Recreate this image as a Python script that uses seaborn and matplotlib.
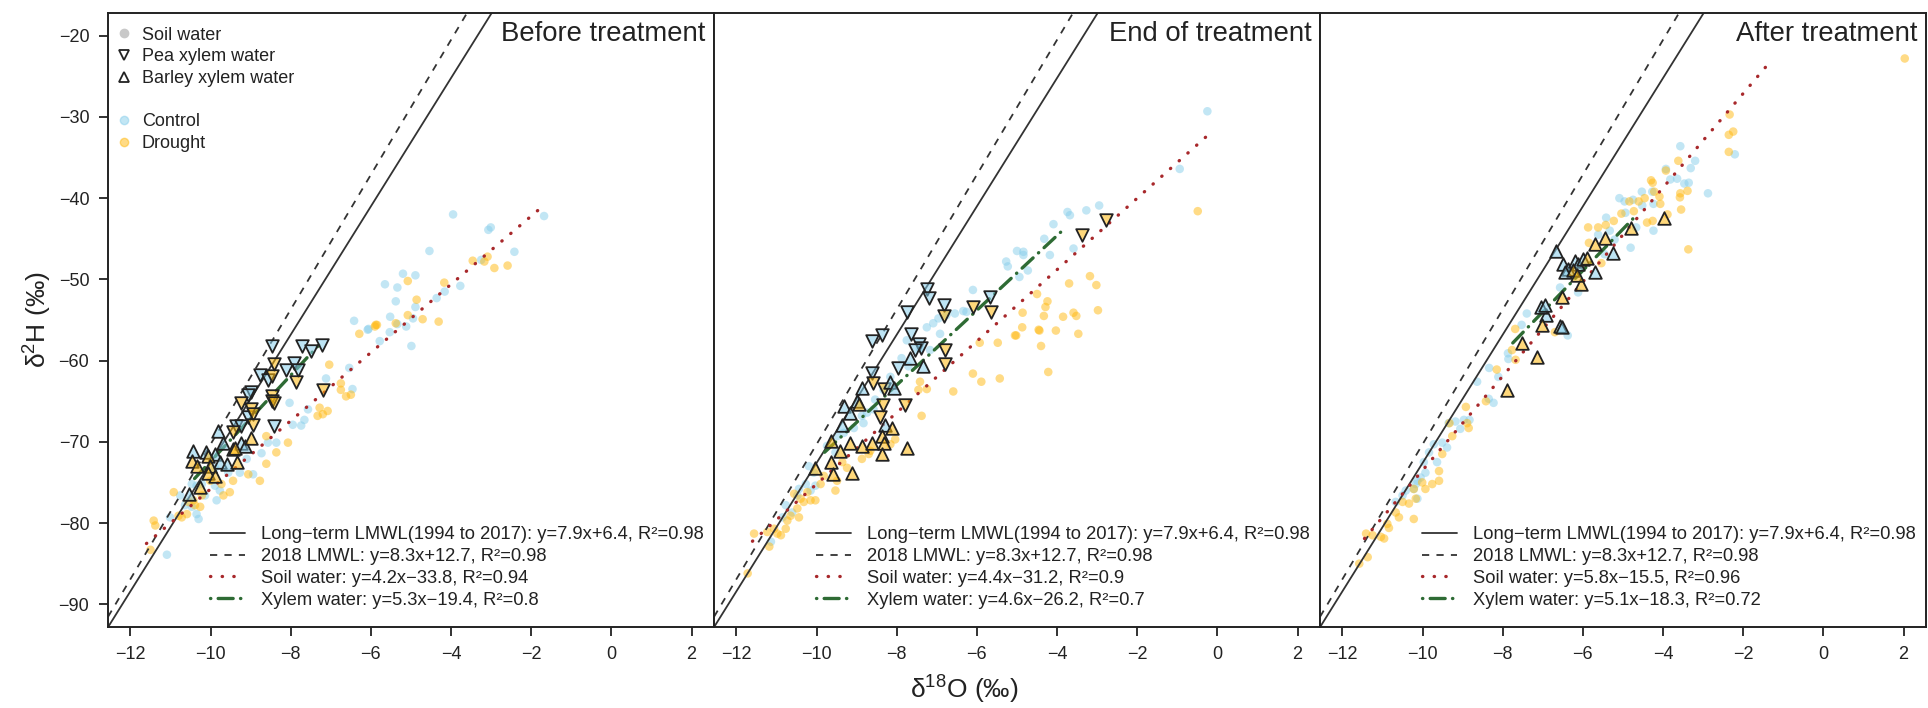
import numpy as np
import matplotlib
matplotlib.use("Agg")
import matplotlib.pyplot as plt
import seaborn as sns
from matplotlib.lines import Line2D

# ---- data (d18O, d2H) ----
# Before treatment
before_soil_control = np.array([
    (-6.42, -55.1), (-6.08, -56.2), (-6.54, -60.9), (-7.12, -62.2), (-6.46, -63.5), (-8.03, -65.2),
    (-7.57, -66.0), (-7.95, -67.9), (-7.74, -68.0), (-7.66, -67.3), (-8.57, -70.1), (-8.36, -70.1),
    (-8.73, -71.4), (-9.10, -72.1), (-8.94, -74.0), (-9.27, -73.8), (-9.56, -73.8), (-9.89, -75.4),
    (-9.77, -76.0), (-10.35, -75.4), (-10.47, -75.2), (-10.22, -75.2), (-10.14, -76.6), (-9.85, -77.2),
    (-10.64, -77.8), (-10.47, -78.0), (-10.35, -78.9), (-10.30, -79.5), (-11.01, -79.3), (-11.09, -83.9),
    (-10.76, -76.6), (-9.89, -73.2), (-3.95, -42.0), (-1.68, -42.2), (-3.01, -43.6), (-3.07, -43.9),
    (-2.42, -46.6), (-4.54, -46.5), (-3.25, -47.6), (-5.20, -49.3), (-4.89, -49.5), (-5.65, -50.6),
    (-5.34, -51.0), (-3.77, -50.8), (-4.16, -51.5), (-4.36, -52.3), (-5.38, -52.7), (-4.89, -53.4),
    (-5.52, -54.6), (-4.95, -54.8), (-5.12, -55.8), (-5.34, -55.5), (-6.06, -56.1), (-5.53, -56.5),
    (-5.78, -57.6), (-4.99, -58.2)])
before_soil_drought = np.array([
    (-6.29, -56.7), (-5.88, -55.6), (-7.04, -60.5), (-6.75, -62.8), (-6.75, -63.6), (-6.62, -64.4),
    (-6.50, -64.2), (-7.28, -65.8), (-7.33, -66.8), (-7.20, -66.6), (-7.08, -66.2), (-8.61, -69.3),
    (-8.07, -70.1), (-8.36, -71.3), (-8.61, -72.7), (-8.77, -74.8), (-9.06, -74.0), (-9.44, -74.8),
    (-9.52, -76.2), (-9.68, -76.6), (-9.73, -75.2), (-10.01, -74.8), (-10.22, -76.6), (-10.43, -77.2),
    (-10.39, -77.8), (-10.26, -78.0), (-10.55, -77.4), (-10.92, -76.2), (-10.80, -79.1), (-10.59, -78.9),
    (-11.42, -79.7), (-11.38, -80.3), (-11.50, -83.3), (-10.72, -79.3), (-3.46, -47.7), (-3.09, -47.2),
    (-3.17, -47.8), (-2.92, -48.6), (-2.59, -48.3), (-5.08, -50.2), (-4.17, -50.4), (-4.86, -52.5),
    (-5.08, -54.4), (-4.71, -54.9), (-4.31, -55.2), (-5.85, -55.6), (-5.90, -55.8), (-5.38, -55.4)])
before_pea_control = np.array([
    (-8.48, -58.2), (-7.71, -58.2), (-7.49, -58.8), (-7.22, -58.1), (-8.77, -61.8), (-8.13, -61.2),
    (-7.93, -60.3), (-7.82, -61.1), (-8.57, -62.4), (-8.98, -63.9), (-9.06, -64.2), (-9.06, -66.9),
    (-9.37, -68.1), (-9.25, -68.1), (-8.43, -68.1)])
before_pea_drought = np.array([
    (-8.43, -60.4), (-8.48, -61.9), (-7.86, -62.6), (-8.48, -64.4), (-8.48, -65.0), (-8.43, -65.2),
    (-7.20, -63.6), (-9.23, -65.2), (-8.98, -66.0), (-8.94, -66.6), (-8.94, -67.9), (-9.44, -68.8)])
before_barley_control = np.array([
    (-9.81, -68.7), (-10.43, -71.1), (-10.11, -71.3), (-9.89, -71.5), (-9.77, -72.5), (-9.60, -72.7),
    (-9.23, -70.1), (-9.68, -70.1), (-10.55, -76.4), (-9.15, -70.5)])
before_barley_drought = np.array([
    (-10.06, -71.7), (-10.47, -72.3), (-10.35, -73.0), (-10.01, -73.0), (-9.44, -70.9), (-9.39, -70.7),
    (-8.98, -69.5), (-9.35, -72.5), (-10.07, -73.8), (-9.89, -74.2), (-10.26, -75.6)])

# End of treatment
end_soil_control = np.array([
    (-7.09, -55.4), (-6.96, -54.8), (-6.76, -54.4), (-7.25, -55.9), (-6.92, -56.7), (-6.55, -54.2),
    (-6.26, -54.0), (-7.75, -57.5), (-7.17, -58.7), (-7.88, -59.7), (-7.71, -60.7), (-8.16, -62.0),
    (-8.33, -63.6), (-8.54, -64.8), (-8.74, -66.4), (-8.87, -66.8), (-9.07, -68.3), (-8.58, -66.0),
    (-8.83, -67.7), (-9.74, -70.5), (-9.53, -71.3), (-10.19, -73.0), (-10.07, -73.8), (-10.27, -75.2),
    (-10.03, -75.4), (-10.48, -76.6), (-10.77, -77.8), (-10.61, -78.7), (-10.85, -79.3), (-11.14, -82.3),
    (-10.44, -75.8), (-10.15, -76.0), (-9.49, -69.3), (-9.32, -68.9), (-7.42, -58.5), (-0.25, -29.3),
    (-0.94, -36.4), (-2.95, -40.9), (-3.27, -41.5), (-3.74, -41.7), (-3.68, -42.1), (-4.09, -43.2),
    (-4.32, -45.0), (-4.18, -47.0), (-3.59, -46.2), (-4.84, -46.6), (-4.84, -47.0), (-5.00, -46.5),
    (-5.27, -47.8), (-5.23, -48.4), (-4.73, -48.9), (-4.94, -49.7), (-6.10, -51.3), (-6.34, -53.9)])
end_soil_drought = np.array([
    (-7.42, -62.6), (-7.46, -63.6), (-7.25, -63.5), (-7.38, -66.8), (-6.59, -63.8), (-6.10, -61.6),
    (-5.89, -62.6), (-5.43, -62.2), (-5.93, -57.8), (-5.48, -57.8), (-5.02, -56.9), (-4.44, -56.3),
    (-4.40, -58.2), (-8.04, -69.7), (-8.16, -70.3), (-8.66, -71.1), (-8.70, -71.5), (-8.87, -72.1),
    (-9.36, -72.5), (-9.24, -73.2), (-9.49, -74.8), (-9.53, -76.0), (-9.82, -74.2), (-9.90, -75.2),
    (-10.23, -76.2), (-10.40, -77.0), (-10.32, -77.4), (-10.15, -77.2), (-10.03, -77.2), (-10.56, -76.4),
    (-10.48, -78.2), (-10.65, -79.1), (-10.44, -79.3), (-10.73, -79.7), (-10.77, -80.7), (-10.89, -81.5),
    (-11.06, -80.7), (-10.98, -81.3), (-11.18, -82.9), (-11.56, -81.3), (-11.72, -86.2), (-11.23, -81.1),
    (-0.49, -41.6), (-3.18, -49.6), (-3.02, -50.7), (-3.70, -50.5), (-4.50, -51.8), (-4.24, -52.7),
    (-4.29, -53.4), (-4.86, -54.1), (-4.33, -54.5), (-3.85, -54.6), (-3.52, -54.5), (-3.59, -54.1),
    (-2.98, -53.8), (-4.87, -55.9), (-4.46, -56.2), (-4.03, -56.3), (-3.47, -56.7), (-5.05, -56.9),
    (-4.22, -61.4)])
end_pea_control = np.array([
    (-7.24, -51.2), (-7.19, -52.3), (-6.83, -53.1), (-7.75, -54.0), (-5.67, -52.2), (-8.61, -57.6),
    (-8.37, -56.9), (-7.64, -56.7), (-7.44, -57.9), (-7.39, -58.4), (-7.54, -58.7), (-8.61, -61.5),
    (-7.98, -60.9)])
end_pea_drought = np.array([
    (-6.83, -54.5), (-6.09, -53.4), (-5.65, -54.0), (-6.80, -58.7), (-6.80, -60.4), (-8.59, -62.7),
    (-8.32, -63.5), (-7.80, -65.5), (-8.35, -65.5), (-3.39, -44.5), (-2.78, -42.7), (-8.41, -67.0)])
end_barley_control = np.array([
    (-7.67, -59.7), (-7.34, -60.7), (-8.16, -62.6), (-8.08, -63.4), (-8.87, -63.4), (-8.99, -65.0),
    (-9.32, -65.6), (-9.16, -66.4), (-9.36, -67.9), (-8.29, -67.9)])
end_barley_drought = np.array([
    (-8.95, -65.4), (-8.12, -68.3), (-9.65, -69.9), (-9.16, -70.1), (-9.41, -71.1), (-8.87, -70.5),
    (-8.62, -70.1), (-8.37, -69.3), (-8.33, -70.1), (-8.37, -71.5), (-7.75, -70.7), (-10.03, -73.2),
    (-9.65, -72.5), (-9.59, -74.0), (-9.12, -73.8)])

# After treatment
after_soil_control = np.array([
    (-7.40, -54.2), (-7.53, -55.6), (-6.38, -56.9), (-7.87, -59.1), (-7.86, -59.8), (-8.34, -60.9),
    (-8.11, -62.0), (-8.64, -62.6), (-8.23, -65.2), (-8.35, -64.7), (-8.83, -67.3), (-9.06, -68.4),
    (-8.97, -67.3), (-9.18, -67.5), (-9.35, -67.7), (-9.72, -70.3), (-9.51, -70.1), (-9.39, -70.7),
    (-9.84, -71.3), (-9.97, -72.5), (-9.64, -72.5), (-9.93, -73.8), (-10.05, -74.4), (-10.13, -74.8),
    (-10.17, -75.2), (-10.22, -75.8), (-10.13, -77.0), (-10.42, -76.0), (-10.50, -76.6), (-10.67, -77.4),
    (-3.57, -33.6), (-3.20, -35.4), (-3.31, -36.3), (-2.21, -34.6), (-3.93, -36.4), (-3.82, -37.7),
    (-3.65, -37.6), (-3.36, -38.1), (-3.47, -38.2), (-2.88, -39.4), (-4.27, -39.2), (-4.53, -39.2),
    (-4.52, -40.9), (-4.24, -40.7), (-4.75, -40.2), (-4.96, -40.4), (-5.09, -40.0), (-5.42, -42.4),
    (-4.94, -41.8), (-4.67, -43.6), (-4.24, -44.0), (-4.81, -46.1), (-5.21, -45.1), (-5.62, -44.5),
    (-5.33, -44.0), (-6.57, -51.0), (-6.12, -51.6), (-5.46, -46.9)])
after_soil_drought = np.array([
    (-7.69, -56.1), (-7.77, -58.7), (-7.68, -59.9), (-8.15, -61.1), (-8.42, -65.0), (-8.92, -65.7),
    (-9.33, -67.7), (-9.26, -69.3), (-8.85, -68.3), (-8.89, -67.7), (-9.51, -71.5), (-9.59, -73.6),
    (-9.59, -74.8), (-9.76, -75.2), (-9.93, -75.8), (-10.01, -75.0), (-10.22, -75.8), (-10.17, -77.0),
    (-10.34, -77.6), (-10.50, -77.4), (-10.67, -78.7), (-10.59, -79.3), (-10.88, -80.1), (-10.84, -80.6),
    (-11.04, -81.7), (-10.96, -81.9), (-11.25, -81.5), (-11.41, -81.3), (-11.37, -84.2), (-11.58, -85.0),
    (-10.22, -79.5), (-6.70, -56.5), (2.03, -22.8), (-2.34, -29.7), (-2.25, -31.8), (-2.36, -32.2),
    (-2.36, -34.3), (-3.62, -35.4), (-3.93, -36.6), (-4.30, -37.8), (-4.26, -38.1), (-3.57, -39.4),
    (-3.39, -39.1), (-3.58, -39.9), (-4.09, -39.8), (-4.07, -40.7), (-4.84, -40.4), (-4.61, -40.4),
    (-4.46, -40.0), (-4.22, -39.2), (-3.55, -41.4), (-3.89, -42.0), (-4.73, -41.6), (-5.04, -41.9),
    (-5.23, -42.8), (-5.62, -43.6), (-5.87, -43.6), (-5.85, -45.5), (-4.40, -43.0), (-4.26, -42.8),
    (-3.37, -46.3), (-5.43, -43.3), (-5.54, -48.0)])
after_pea_control = np.empty((0, 2))
after_pea_drought = np.empty((0, 2))
after_barley_control = np.array([
    (-5.25, -46.8), (-5.71, -49.1), (-6.57, -55.8), (-6.68, -46.5), (-6.49, -48.1), (-6.37, -48.7),
    (-6.20, -47.7), (-6.12, -48.1), (-6.00, -47.5), (-6.45, -49.1), (-6.91, -54.4), (-6.53, -55.9),
    (-7.05, -53.4), (-6.95, -53.2)])
after_barley_drought = np.array([
    (-3.97, -42.5), (-4.80, -43.7), (-5.44, -44.9), (-5.69, -45.6), (-6.04, -50.6), (-6.53, -52.2),
    (-5.91, -47.4), (-6.24, -48.9), (-6.16, -49.4), (-7.53, -57.8), (-7.15, -59.6), (-7.90, -63.6),
    (-7.03, -55.6)])

# regression lines: slope, intercept, R2 and x range of the fit
panel_titles = ["Before treatment", "End of treatment", "After treatment"]
lmwl_long = (7.9, 6.4, 0.98)
lmwl_2018 = (8.3, 12.7, 0.98)
soil_fit = [(4.2, -33.8, 0.94), (4.4, -31.2, 0.9), (5.8, -15.5, 0.96)]
soil_xrange = [(-11.6, -1.8), (-11.6, -0.2), (-11.45, -1.4)]
xylem_fit = [(5.3, -19.4, 0.8), (4.6, -26.2, 0.7), (5.1, -18.3, 0.72)]
xylem_xrange = [(-10.4, -7.3), (-9.8, -3.8), (-7.75, -4.75)]
x_ticks = [-12, -10, -8, -6, -4, -2, 0, 2]
y_ticks = [-90, -80, -70, -60, -50, -40, -30, -20]

soil = [(before_soil_control, before_soil_drought), (end_soil_control, end_soil_drought),
        (after_soil_control, after_soil_drought)]
pea = [(before_pea_control, before_pea_drought), (end_pea_control, end_pea_drought),
       (after_pea_control, after_pea_drought)]
barley = [(before_barley_control, before_barley_drought), (end_barley_control, end_barley_drought),
          (after_barley_control, after_barley_drought)]

# ---- style ----
sns.set_style("ticks")
plt.rcParams["font.family"] = ["Liberation Sans", "DejaVu Sans"]
plt.rcParams["mathtext.fontset"] = "custom"
plt.rcParams["mathtext.rm"] = "Liberation Sans"
plt.rcParams["axes.unicode_minus"] = True

blue = "#87CEEB"
orange = "#FFB90F"
edge = "#222222"
c_long = "#333333"
c_soil = "#A8282B"
c_xyl = "#2E6B34"
txt = "#222222"


def fmt(v):
    return f"{v:g}".replace("-", "\u2212")


def eq(fit):
    m, b, r2 = fit
    sign = "+" if b >= 0 else "\u2212"
    return f"y={fmt(m)}x{sign}{fmt(abs(b))}, R\u00b2={fmt(r2)}"


fig = plt.figure(figsize=(19.28, 7.08), dpi=100)
W = 606 / 1928
axes = [fig.add_axes([108 / 1928 + i * W, 81 / 708, W, 614 / 708]) for i in range(3)]

for i, ax in enumerate(axes):
    ctrl, drt = soil[i]
    sns.scatterplot(x=ctrl[:, 0], y=ctrl[:, 1], ax=ax, color=blue, alpha=0.5, s=38,
                    edgecolor="none", linewidth=0, zorder=1)
    sns.scatterplot(x=drt[:, 0], y=drt[:, 1], ax=ax, color=orange, alpha=0.5, s=38,
                    edgecolor="none", linewidth=0, zorder=1)

    ax.axline((0, lmwl_long[1]), slope=lmwl_long[0], color=c_long, lw=1.3, zorder=2)
    ax.axline((0, lmwl_2018[1]), slope=lmwl_2018[0], color=c_long, lw=1.3,
              linestyle=(0, (4, 4)), zorder=2)

    m, b, _ = soil_fit[i]
    xs = np.linspace(*soil_xrange[i], 2)
    ax.plot(xs, m * xs + b, color=c_soil, lw=2.4, linestyle=(0, (0.1, 3.4)),
            dash_capstyle="round", zorder=3)
    m, b, _ = xylem_fit[i]
    xs = np.linspace(*xylem_xrange[i], 2)
    ax.plot(xs, m * xs + b, color=c_xyl, lw=2.4, linestyle=(0, (4.5, 2.2, 0.1, 2.2)),
            dash_capstyle="round", solid_capstyle="round", zorder=3)

    for group, mk in ((pea[i], "v"), (barley[i], "^")):
        for pts, col in zip(group, (blue, orange)):
            if len(pts) == 0:
                continue
            rgba = matplotlib.colors.to_rgba(col, 0.55)
            sns.scatterplot(x=pts[:, 0], y=pts[:, 1], ax=ax, marker=mk, s=82,
                            color=rgba, edgecolor=edge, linewidth=1.3, zorder=4)

    ax.set_xlim(-12.56, 2.56)
    ax.set_ylim(-92.8, -17.2)
    ax.set_xticks(x_ticks)
    ax.set_xticklabels([fmt(t) for t in x_ticks])
    if i == 0:
        ax.set_yticks(y_ticks)
        ax.set_yticklabels([fmt(t) for t in y_ticks])
    else:
        ax.set_yticks([])
    ax.tick_params(direction="out", length=6.5, width=1.3, labelsize=13, pad=7, colors=txt)
    for sp in ax.spines.values():
        sp.set_visible(True)
        sp.set_linewidth(1.4)
        sp.set_color(txt)
    ax.set_xlabel("")
    ax.set_ylabel("")

    ax.text(0.986, 0.966, panel_titles[i], transform=ax.transAxes, ha="right", va="center",
            fontsize=19.8, color=txt)

    handles = [
        Line2D([], [], color=c_long, lw=1.3),
        Line2D([], [], color=c_long, lw=1.3, linestyle=(0, (4, 4))),
        Line2D([], [], color=c_soil, lw=2.4, linestyle=(0, (0.1, 3.4)), dash_capstyle="round"),
        Line2D([], [], color=c_xyl, lw=2.4, linestyle=(0, (0.1, 2.2, 4.5, 2.2)),
               dash_capstyle="round"),
    ]
    labels = [
        "Long\u2212term LMWL(1994 to 2017): " + eq(lmwl_long),
        "2018 LMWL: " + eq(lmwl_2018),
        "Soil water: " + eq(soil_fit[i]),
        "Xylem water: " + eq(xylem_fit[i]),
    ]
    leg = ax.legend(handles, labels, loc="lower left", bbox_to_anchor=(0.168, 0.030),
                    frameon=False, fontsize=13.2, handlelength=1.91, handletextpad=0.87,
                    labelspacing=0.26, borderpad=0, borderaxespad=0)
    for t in leg.get_texts():
        t.set_color(txt)

    if i == 0:
        ax.add_artist(leg)
        mh = [
            Line2D([], [], marker="o", linestyle="none", color="#C8C8C8", markersize=6),
            Line2D([], [], marker="v", linestyle="none", markerfacecolor="none",
                   markeredgecolor=edge, markersize=7.5, markeredgewidth=1.3),
            Line2D([], [], marker="^", linestyle="none", markerfacecolor="none",
                   markeredgecolor=edge, markersize=7.5, markeredgewidth=1.3),
            Line2D([], [], linestyle="none"),
            Line2D([], [], marker="o", linestyle="none", color=blue, alpha=0.5, markersize=6),
            Line2D([], [], marker="o", linestyle="none", color=orange, alpha=0.5, markersize=6),
        ]
        ml = ["Soil water", "Pea xylem water", "Barley xylem water", " ", "Control", "Drought"]
        leg2 = ax.legend(mh, ml, loc="upper left", bbox_to_anchor=(0.012, 0.978),
                         frameon=False, fontsize=13, handlelength=1.0, handletextpad=0.46,
                         labelspacing=0.26, borderpad=0, borderaxespad=0)
        for t in leg2.get_texts():
            t.set_color(txt)

fig.text(0.5, 0.027, "\u03b4$^{18}$O (\u2030)", ha="center", va="center", fontsize=19,
         color=txt)
fig.text(0.019, 0.548, "\u03b4$^{2}$H (\u2030)", ha="center", va="center", fontsize=19,
         rotation=90, color=txt)

fig.savefig("out.png", dpi=100)
